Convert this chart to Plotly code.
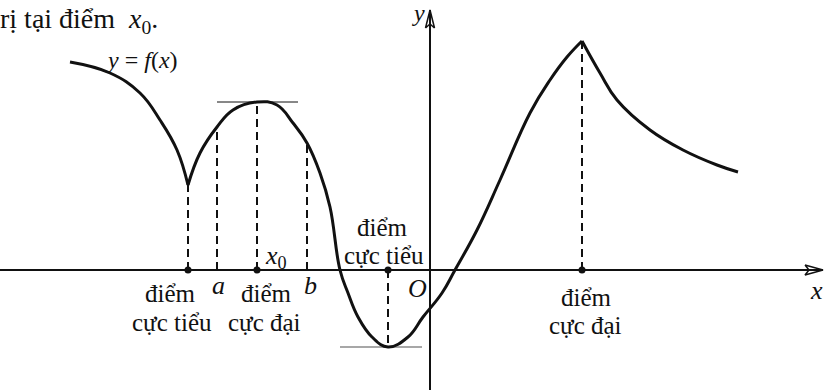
import plotly.graph_objects as go

# curve (origin at O, 1 unit = 10 px)
left_x = [-36.0, -32.0, -29.0, -27.0, -25.3, -24.2]
left_y = [20.8, 19.7, 17.7, 15.0, 12.0, 8.5]

mid_x = [-24.2, -23.0, -21.3, -19.7, -17.3, -15.3, -13.7, -12.3, -11.0, -10.0,
         -9.0, -8.2, -7.2, -5.8, -4.2, -2.2, -0.7, 1.2, 2.5,
         4.7, 7.0, 10.0, 12.0, 13.7, 15.2]
mid_y = [8.5, 11.7, 14.3, 16.0, 16.8, 16.5, 14.7, 12.7, 9.7, 6.3,
         0.0, -2.3, -4.7, -6.7, -7.7, -6.7, -4.7, -2.3, 0.0,
         4.0, 9.0, 15.7, 19.0, 21.3, 22.9]

right_x = [15.2, 17.0, 18.7, 22.0, 25.3, 28.7, 30.8]
right_y = [22.9, 19.7, 17.0, 14.0, 12.0, 10.5, 9.8]

# dashed guides: x position and curve value
guide_x = [-24.2, -21.3, -17.3, -12.3, -4.2, 15.2]
guide_y = [8.5, 14.3, 16.8, 12.7, -7.7, 22.9]

# extrema marked on the x axis
dot_x = [-24.2, -17.3, -4.2, 15.2]
dot_y = [0, 0, 0, 0]

# horizontal tangents at x0 and at the minimum
tan1_x = [-21.3, -13.2]
tan1_y = [16.8, 16.8]
tan2_x = [-9.0, -0.8]
tan2_y = [-7.7, -7.7]

x_range = [-43, 39.5]
y_range = [-12, 27]
x_tip = 39.3
y_tip = 26.0

SERIF = "Liberation Serif, Times New Roman, DejaVu Serif, serif"
BLACK = "#111111"

fig = go.Figure()

# axes
fig.add_trace(go.Scatter(x=[x_range[0], x_tip], y=[0, 0], mode="lines",
                         line=dict(color=BLACK, width=2)))
fig.add_trace(go.Scatter(x=[0, 0], y=[y_range[0], y_tip], mode="lines",
                         line=dict(color=BLACK, width=2)))
# arrow heads
fig.add_trace(go.Scatter(x=[x_tip - 1.8, x_tip, x_tip - 1.8, x_tip - 1.4, x_tip - 1.8],
                         y=[0.5, 0, -0.5, 0, 0.5], mode="lines",
                         line=dict(color=BLACK, width=1.5)))
fig.add_trace(go.Scatter(x=[-0.45, 0, 0.45, 0, -0.45],
                         y=[y_tip - 1.8, y_tip, y_tip - 1.8, y_tip - 1.4, y_tip - 1.8],
                         mode="lines", line=dict(color=BLACK, width=1.5)))

# dashed guides
for gx, gy in zip(guide_x, guide_y):
    fig.add_trace(go.Scatter(x=[gx, gx], y=[0, gy], mode="lines",
                             line=dict(color=BLACK, width=2, dash="8px,5px")))

# tangents
fig.add_trace(go.Scatter(x=tan1_x, y=tan1_y, mode="lines",
                         line=dict(color=BLACK, width=1)))
fig.add_trace(go.Scatter(x=tan2_x, y=tan2_y, mode="lines",
                         line=dict(color="#8a8a8a", width=1.5)))

# the curve
for cx, cy in [(left_x, left_y), (mid_x, mid_y), (right_x, right_y)]:
    fig.add_trace(go.Scatter(x=cx, y=cy, mode="lines",
                             line=dict(color=BLACK, width=3, shape="spline", smoothing=1.2)))

fig.add_trace(go.Scatter(x=dot_x, y=dot_y, mode="markers",
                         marker=dict(color=BLACK, size=7)))

def label(x, y, text, size=25, anchor="center", xref="x"):
    fig.add_annotation(x=x, y=y, xref=xref, text=text, showarrow=False, xanchor=anchor,
                       yanchor="middle", font=dict(family=SERIF, size=size, color=BLACK))

label(-0.002, 25.0, "rị tại điểm  <i>x</i><sub>0</sub>.", size=28, anchor="left", xref="paper")
label(-28.8, 21.0, "<i>y</i> = <i>f</i>(<i>x</i>)", size=24)

label(-26.0, -2.3, "điểm")
label(-25.8, -5.2, "cực tiểu")
label(-21.2, -1.5, "<i>a</i>", size=26)
label(-16.4, -2.3, "điểm")
label(-16.6, -5.2, "cực đại")
label(-16.7, 1.3, "<i>x</i><sub>0</sub>", size=26, anchor="left")
label(-12.0, -1.5, "<i>b</i>", size=26)
label(-4.8, 4.3, "điểm")
label(-4.6, 1.5, "cực tiểu")
label(-1.3, -1.8, "<i>O</i>", size=26)
label(15.6, -2.7, "điểm")
label(15.5, -5.5, "cực đại")
label(1.0, -2.0, "<i>x</i>", size=26, anchor="right", xref="paper")
label(-1.2, 25.7, "<i>y</i>", size=24)

fig.update_layout(
        width=825,
        height=390,
        margin=dict(l=0, r=0, t=0, b=0),
        paper_bgcolor="white",
        plot_bgcolor="white",
        showlegend=False,
        )
fig.update_xaxes(range=x_range, visible=False)
fig.update_yaxes(range=y_range, visible=False)

# page body margin would push the figure 8px down and right
fig.write_html("out.html", config=dict(displayModeBar=False),
               post_script="document.body.style.margin='0';")
